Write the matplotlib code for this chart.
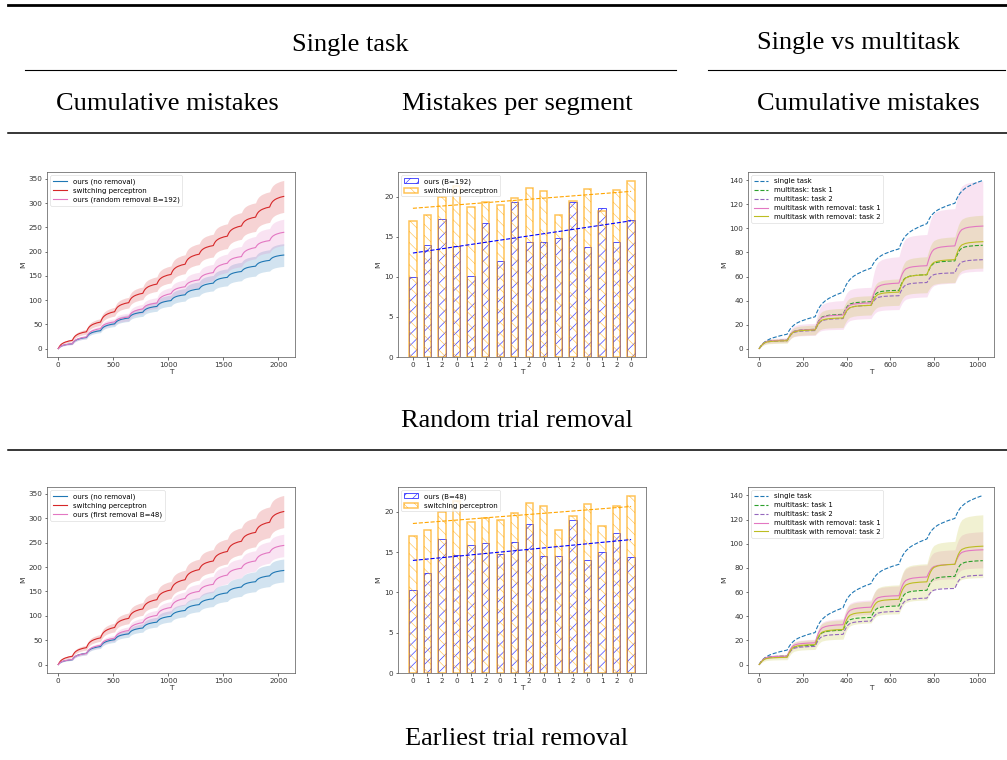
import numpy as np
import matplotlib
matplotlib.use("Agg")
import matplotlib.pyplot as plt
from matplotlib.lines import Line2D

W, H = 1007, 760
SEG = 128

# within-segment offsets and the fraction of a segment's mistakes made by each offset
offsets = [0, 8, 16, 24, 32, 48, 64, 96, 128]
left_shape = [0, 0.2, 0.36, 0.48, 0.57, 0.7, 0.79, 0.92, 1.0]
single_shape = [0, 0.18, 0.33, 0.44, 0.53, 0.66, 0.75, 0.89, 1.0]
multi_shape = [0, 0.3, 0.55, 0.72, 0.82, 0.9, 0.94, 0.98, 1.0]

# single task: mistakes per segment (16 segments of 128 trials)
switch_seg = [17.0, 17.7, 20.0, 21.4, 18.7, 19.3, 19.0, 19.9, 21.1, 20.7, 17.7, 19.5, 21.0, 18.2, 20.8, 22.0]
random_seg = [10.0, 14.0, 17.2, 13.9, 10.1, 16.7, 12.0, 19.4, 14.3, 14.3, 14.9, 19.3, 13.7, 18.6, 14.4, 17.1]
first_seg = [10.3, 12.4, 16.7, 14.6, 15.9, 16.1, 14.8, 16.3, 18.5, 14.5, 14.5, 19.0, 14.0, 15.0, 17.4, 14.4]
seg_labels = [str(i % 3) for i in range(16)]

# single task: cumulative values at segment boundaries
no_removal_cum = [0, 10, 23, 37, 51, 63, 75, 87, 99, 111, 123, 135, 147, 159, 170, 182, 193]
no_removal_std = [0, 1.5, 3, 4, 5.5, 7, 8.5, 10, 11.5, 13, 14.5, 16, 17.5, 19, 20.5, 22, 23.5]
switch_std = [0, 3, 5, 7, 9, 11, 13, 15, 17.5, 19.5, 21.5, 23.5, 25.5, 27.5, 29.5, 31.5, 33]
random_std = [0, 2, 3.5, 5, 6.5, 8, 9.5, 11, 12.5, 14, 15.5, 17, 19, 21, 23, 25, 27]
first_std = [0, 1.5, 3, 4.5, 6, 7.5, 9, 10.5, 12, 13.5, 15, 16.5, 18, 19.5, 21, 22, 23]

# single vs multitask: cumulative values at segment boundaries (8 segments)
single_cum = [0, 12, 26.5, 47, 67, 83, 104, 121, 140]
multi1_cum = [0, 7, 16, 28.5, 39, 48.5, 61.5, 73, 86]
multi2_cum = [0, 6.5, 15, 25, 36, 44, 55, 63, 74]
rand_t1 = [0, 7, 16, 28, 38, 54.5, 69, 85.5, 102]
rand_t1_std = [0, 2, 5, 12, 13, 22, 26, 31, 37.5]
rand_t2 = [0, 6.5, 15.5, 25.5, 36, 47, 61.5, 74, 89]
rand_t2_std = [0, 2, 4, 8, 8, 11, 15, 19, 22]
first_t1 = [0, 7, 18, 33, 47.5, 57, 72.5, 83, 95]
first_t1_std = [0, 1.5, 3, 5, 6, 8, 10, 12, 15]
first_t2 = [0, 6, 16.5, 29, 43.5, 54, 68.5, 83, 98]
first_t2_std = [0, 2, 4, 8, 9, 12, 15, 19, 26]

plt.rcParams['hatch.linewidth'] = 0.45
fig = plt.figure(figsize=(W / 100, H / 100), dpi=100)


def shaped(bounds, shape):
    t, y = [0], [bounds[0]]
    for k in range(len(bounds) - 1):
        for o, f in zip(offsets[1:], shape[1:]):
            t.append(k * SEG + o)
            y.append(bounds[k] + f * (bounds[k + 1] - bounds[k]))
    return np.array(t), np.array(y)


def px_axes(l, t, r, b):
    return fig.add_axes([l / W, 1 - b / H, (r - l) / W, (b - t) / H])


def style(ax):
    ax.tick_params(labelsize=5.2, length=1.8, width=0.5, pad=1.5, colors='#333333')
    for s in ax.spines.values():
        s.set_linewidth(0.5)
        s.set_color('#555555')
    ax.set_xlabel('T', fontsize=5.4, labelpad=1, color='#333333')
    ax.set_ylabel('M', fontsize=5.4, labelpad=2, color='#333333')


def legend(ax):
    leg = ax.legend(loc='upper left', fontsize=5.0, handlelength=2.0, borderpad=0.4,
                    labelspacing=0.42)
    leg.get_frame().set_linewidth(0.4)


def cumulative(ax, third_label, third_seg, third_std):
    cum_third = np.concatenate([[0], np.cumsum(third_seg)])
    cum_switch = np.concatenate([[0], np.cumsum(switch_seg)])
    for bounds, std, color, label in [
        (no_removal_cum, no_removal_std, 'tab:blue', 'ours (no removal)'),
        (cum_switch, switch_std, 'tab:red', 'switching perceptron'),
        (cum_third, third_std, 'tab:pink', third_label),
    ]:
        t, y = shaped(bounds, left_shape)
        _, s = shaped(std, left_shape)
        ax.plot(t, y, color=color, lw=0.8, label=label)
        ax.fill_between(t, y - s, y + s, color=color, alpha=0.2, lw=0)
    ax.set_xticks([0, 500, 1000, 1500, 2000])
    ax.set_yticks(range(0, 351, 50))
    legend(ax)
    style(ax)


def per_segment(ax, ours_label, ours_seg):
    x = np.arange(len(switch_seg))
    ax.bar(x, ours_seg, width=0.5, fill=False, edgecolor='blue', hatch='///', lw=0.6,
           alpha=0.8, label=ours_label)
    ax.bar(x, switch_seg, width=0.5, fill=False, edgecolor='orange', hatch='\\\\\\', lw=1.1,
           alpha=0.65, label='switching perceptron')
    for vals, color in [(ours_seg, 'blue'), (switch_seg, 'orange')]:
        coef = np.polyfit(x, vals, 1)
        ax.plot(x, np.polyval(coef, x), '--', color=color, lw=0.8)
    ax.set_xticks(x)
    ax.set_xticklabels(seg_labels)
    ax.set_yticks([0, 5, 10, 15, 20])
    legend(ax)
    style(ax)


def multitask(ax, t1, t1_std, t2, t2_std):
    for bounds, shape, color, label in [
        (single_cum, single_shape, 'tab:blue', 'single task'),
        (multi1_cum, multi_shape, 'tab:green', 'multitask: task 1'),
        (multi2_cum, multi_shape, 'tab:purple', 'multitask: task 2'),
    ]:
        t, y = shaped(bounds, shape)
        ax.plot(t, y, '--', color=color, lw=0.8, label=label)
    for bounds, std, color, label in [
        (t1, t1_std, 'tab:pink', 'multitask with removal: task 1'),
        (t2, t2_std, 'tab:olive', 'multitask with removal: task 2'),
    ]:
        t, y = shaped(bounds, multi_shape)
        _, s = shaped(std, multi_shape)
        ax.plot(t, y, color=color, lw=0.8, label=label)
        ax.fill_between(t, y - s, y + s, color=color, alpha=0.2, lw=0)
    ax.set_xticks(range(0, 1001, 200))
    ax.set_yticks(range(0, 141, 20))
    legend(ax)
    style(ax)


# row 1: random trial removal
cumulative(px_axes(47, 172, 295, 357), 'ours (random removal B=192)', random_seg, random_std)
per_segment(px_axes(398, 172, 646, 357), 'ours (B=192)', random_seg)
multitask(px_axes(748, 172, 994, 357), rand_t1, rand_t1_std, rand_t2, rand_t2_std)

# row 2: earliest trial removal
cumulative(px_axes(47, 487, 295, 673), 'ours (first removal B=48)', first_seg, first_std)
per_segment(px_axes(398, 487, 646, 673), 'ours (B=48)', first_seg)
multitask(px_axes(748, 487, 994, 673), first_t1, first_t1_std, first_t2, first_t2_std)


# table rules and headings
def rule(x0, x1, y, lw):
    fig.add_artist(Line2D([x0 / W, x1 / W], [1 - y / H, 1 - y / H], transform=fig.transFigure,
                          color='black', lw=lw))


def head(x, y, s):
    fig.text(x / W, 1 - y / H, s, ha='center', va='center', fontsize=19,
             family='Liberation Serif')


rule(8, 1007, 5, 2.0)
rule(25, 676, 70, 0.8)
rule(708, 1005, 70, 0.8)
rule(8, 1007, 133, 1.1)
rule(8, 1007, 450, 1.1)

head(350, 45, 'Single task')
head(858, 43, 'Single vs multitask')
head(167, 104, 'Cumulative mistakes')
head(517, 104, 'Mistakes per segment')
head(868, 104, 'Cumulative mistakes')
head(517, 421, 'Random trial removal')
head(517, 739, 'Earliest trial removal')

fig.savefig('out.png', dpi=100)
